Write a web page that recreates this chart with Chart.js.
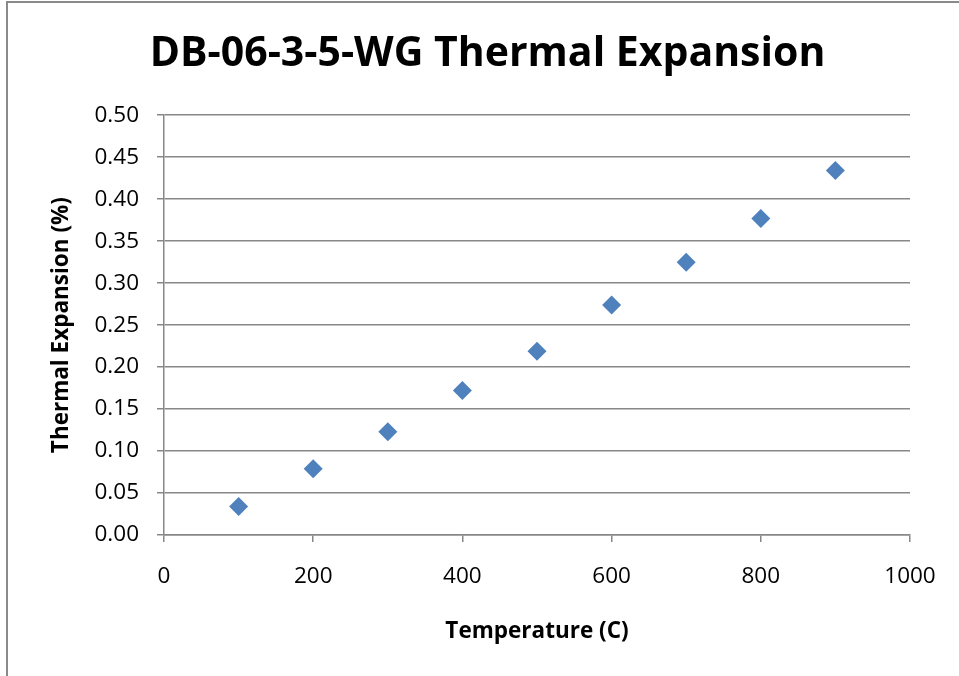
<!DOCTYPE html>
<html>
<head>
<meta charset="utf-8">
<script src="https://cdn.jsdelivr.net/npm/chart.js@4"></script>
<style>
  html, body { margin: 0; padding: 0; background: #fff; overflow: hidden; }
  #frame {
    position: absolute; left: 6px; top: 1px;
    width: 970px; height: 690px;
    border-left: 2px solid #8a8a8a; border-top: 2px solid #8a8a8a;
  }
  #box { position: absolute; left: 0; top: 0; width: 959px; height: 676px; }
</style>
</head>
<body>
<div id="frame"><div id="box"><canvas id="myChart"></canvas></div></div>
<script>
let temperatures = [100, 200, 300, 400, 500, 600, 700, 800, 900];
let expansion = [0.034, 0.079, 0.123, 0.172, 0.219, 0.274, 0.325, 0.377, 0.434];
let titleText = "DB-06-3-5-WG Thermal Expansion";
let xTitle = "Temperature (C)";
let yTitle = "Thermal Expansion (%)";

let points = [];
for (let i = 0; i < temperatures.length; i++) {
  points.push({ x: temperatures[i], y: expansion[i] });
}

let ctx = document.getElementById("myChart");
let fontFamily = "'Open Sans', 'Liberation Sans', sans-serif";
let gridColor = "#888888";

let myChart = new Chart(ctx, {
  type: "scatter",
  data: {
    datasets: [
      {
        label: "Thermal Expansion",
        data: points,
        pointStyle: "rectRot",
        pointRadius: 9.5,
        pointHoverRadius: 9.5,
        backgroundColor: "#4F81BD",
        borderColor: "#4F81BD",
        borderWidth: 0
      }
    ]
  },
  options: {
    responsive: true,
    maintainAspectRatio: false,
    animation: false,
    layout: { padding: { left: 0, right: 0, top: 0, bottom: 34 } },
    plugins: {
      legend: { display: false },
      tooltip: { enabled: false },
      title: {
        display: true,
        text: titleText,
        color: "#000",
        font: { family: fontFamily, size: 41, weight: "bold" },
        padding: { top: 27, bottom: 36 }
      }
    },
    scales: {
      x: {
        type: "linear",
        min: 0,
        max: 1000,
        ticks: {
          stepSize: 200,
          color: "#000",
          padding: 21,
          font: { family: fontFamily, size: 22.5 },
          callback: function (v) { return String(v); }
        },
        grid: {
          drawOnChartArea: false,
          drawTicks: true,
          tickLength: 7,
          color: gridColor,
          lineWidth: 1.5
        },
        border: { display: true, color: gridColor, width: 1.5 },
        title: {
          display: true,
          text: xTitle,
          color: "#000",
          font: { family: fontFamily, size: 22.5, weight: "bold" },
          padding: { top: 0, bottom: 0 }
        },
        afterFit: function (scale) { scale.height = 110; }
      },
      y: {
        min: 0,
        max: 0.5,
        ticks: {
          stepSize: 0.05,
          color: "#000",
          padding: 18,
          font: { family: fontFamily, size: 22.5 },
          callback: function (v) { return v.toFixed(2); }
        },
        grid: {
          drawOnChartArea: true,
          drawTicks: true,
          tickLength: 7,
          color: gridColor,
          lineWidth: 1.5
        },
        border: { display: true, color: gridColor, width: 1.5 },
        title: {
          display: true,
          text: yTitle,
          color: "#000",
          font: { family: fontFamily, size: 22.5, weight: "bold" },
          padding: { top: 40, bottom: 0 }
        },
        afterFit: function (scale) { scale.width = 156; }
      },
      yRight: {
        position: "right",
        min: 0,
        max: 0.5,
        ticks: { display: false },
        grid: { display: false },
        border: { display: false },
        afterFit: function (scale) { scale.width = 57; }
      }
    }
  }
});
</script>
</body>
</html>
